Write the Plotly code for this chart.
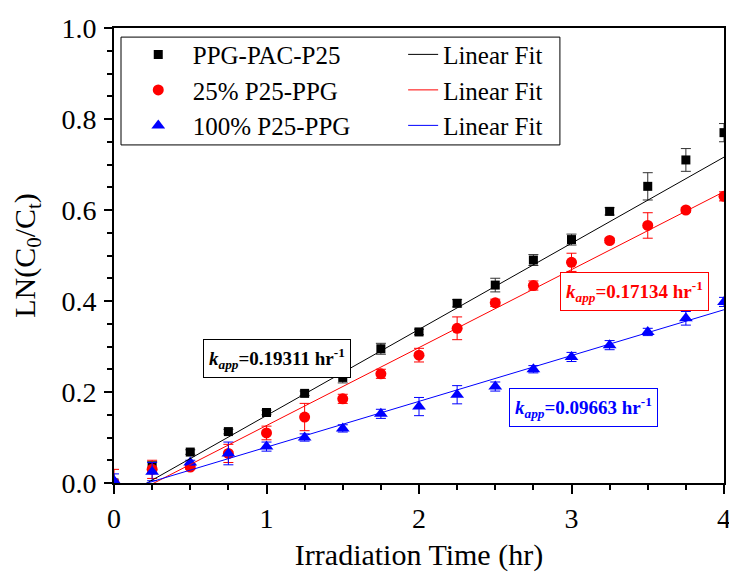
import plotly.graph_objects as go

# irradiation time (hr)
time_hr = [0, 0.25, 0.5, 0.75, 1.0, 1.25, 1.5, 1.75, 2.0, 2.25, 2.5, 2.75, 3.0, 3.25, 3.5, 3.75, 4.0]

# LN(C0/Ct)
ppg_pac_p25 = [0.0, 0.035, 0.068, 0.113, 0.155, 0.197, 0.232, 0.295, 0.332, 0.395, 0.435, 0.49, 0.535, 0.597, 0.652, 0.71, 0.77]
ppg_pac_p25_err = [0.0, 0.012, 0.005, 0.005, 0.005, 0.005, 0.012, 0.012, 0.006, 0.008, 0.015, 0.012, 0.012, 0.008, 0.03, 0.025, 0.02]

p25_25 = [0.0, 0.03, 0.035, 0.065, 0.11, 0.145, 0.185, 0.24, 0.281, 0.34, 0.396, 0.434, 0.485, 0.533, 0.566, 0.6, 0.63]
p25_25_err = [0.03, 0.02, 0.005, 0.02, 0.015, 0.03, 0.01, 0.01, 0.015, 0.025, 0.008, 0.01, 0.02, 0.005, 0.028, 0.005, 0.01]

p25_100 = [0.005, 0.025, 0.045, 0.065, 0.08, 0.1, 0.12, 0.152, 0.168, 0.194, 0.212, 0.25, 0.277, 0.303, 0.332, 0.362, 0.398]
p25_100_err = [0.015, 0.02, 0.005, 0.025, 0.01, 0.008, 0.008, 0.01, 0.02, 0.02, 0.01, 0.008, 0.01, 0.01, 0.008, 0.015, 0.01]

series_names = ["PPG-PAC-P25", "25% P25-PPG", "100% P25-PPG"]
series_colors = ["black", "red", "blue"]
series_symbols = ["square", "circle", "triangle-up"]
series_sizes = [9, 11, 12]

# linear fits as drawn in the figure
fit_slope = [0.1893, 0.1713, 0.1007]
fit_intercept = [-0.041, -0.045, -0.022]
fit_x = [0, 4]
k_app_labels = ["0.19311", "0.17134", "0.09663"]

FONT = "Liberation Serif, Times New Roman, serif"

fig = go.Figure()

values = [ppg_pac_p25, p25_25, p25_100]
errors = [ppg_pac_p25_err, p25_25_err, p25_100_err]
err_colors = ["#333333", "red", "blue"]

for i in range(3):
    fig.add_trace(go.Scatter(
        x=time_hr, y=values[i],
        mode="markers",
        name=series_names[i],
        marker=dict(symbol=series_symbols[i], size=series_sizes[i], color=series_colors[i]),
        error_y=dict(type="data", array=errors[i], color=err_colors[i], thickness=1, width=5),
        legend="legend",
    ))
for i in range(3):
    fig.add_trace(go.Scatter(
        x=fit_x, y=[fit_slope[i] * x + fit_intercept[i] for x in fit_x],
        mode="lines",
        name="Linear Fit",
        line=dict(color=series_colors[i], width=1),
        legend="legend2",
    ))

# k_app boxes (paper coords)
box_pos = [(0.268, 0.273), (0.853, 0.421), (0.770, 0.166)]
for i in range(3):
    fig.add_annotation(
        x=box_pos[i][0], y=box_pos[i][1], xref="paper", yref="paper",
        xanchor="center", yanchor="middle",
        text=f"<b><i>k</i><sub><i>app</i></sub>={k_app_labels[i]} hr<sup>-1</sup></b>",
        showarrow=False,
        font=dict(family=FONT, size=19, color=series_colors[i]),
        bordercolor=series_colors[i], borderwidth=1, borderpad=5,
        bgcolor="white",
    )

# legend frame
fig.add_shape(type="rect", xref="paper", yref="paper",
              x0=0.0115, x1=0.731, y0=0.743, y1=0.980,
              line=dict(color="black", width=1))

axis_common = dict(
    showline=True, linecolor="black", linewidth=2, mirror=True,
    ticks="outside", tickcolor="black", tickwidth=1.5,
    showgrid=False, zeroline=False, automargin=False,
    ticklabeloverflow="allow",
    tickfont=dict(family=FONT, size=28, color="black"),
)

fig.update_xaxes(
    range=[0, 4], dtick=1, ticklen=9,
    minor=dict(dtick=0.25, ticks="outside", ticklen=5, tickcolor="black"),
    title=dict(text="Irradiation Time (hr)", font=dict(family=FONT, size=30, color="black"), standoff=11),
    **axis_common,
)
fig.update_yaxes(
    range=[0, 1.0], dtick=0.2, tickformat=".1f", ticklen=8, ticklabelstandoff=2,
    minor=dict(dtick=0.05, ticks="outside", ticklen=5, tickcolor="black"),
    title=dict(text="LN(C<sub>0</sub>/C<sub>t</sub>)", font=dict(family=FONT, size=30, color="black"), standoff=17),
    **axis_common,
)

legend_common = dict(
    font=dict(family=FONT, size=25, color="black"),
    bgcolor="rgba(0,0,0,0)", borderwidth=0,
    yanchor="top", xanchor="left", tracegroupgap=0,
)
fig.update_layout(
    width=729, height=576,
    margin=dict(l=114, r=5, t=28, b=93),
    plot_bgcolor="white", paper_bgcolor="white",
    showlegend=True,
    legend=dict(x=0.016, y=0.992, itemwidth=59, **legend_common),
    legend2=dict(x=0.474, y=0.992, **legend_common),
)

# drop the default 8px page margin so the figure sits at the window's corner
fig.write_html("out.html", config={"displayModeBar": False},
               post_script="document.body.style.margin='0';")
